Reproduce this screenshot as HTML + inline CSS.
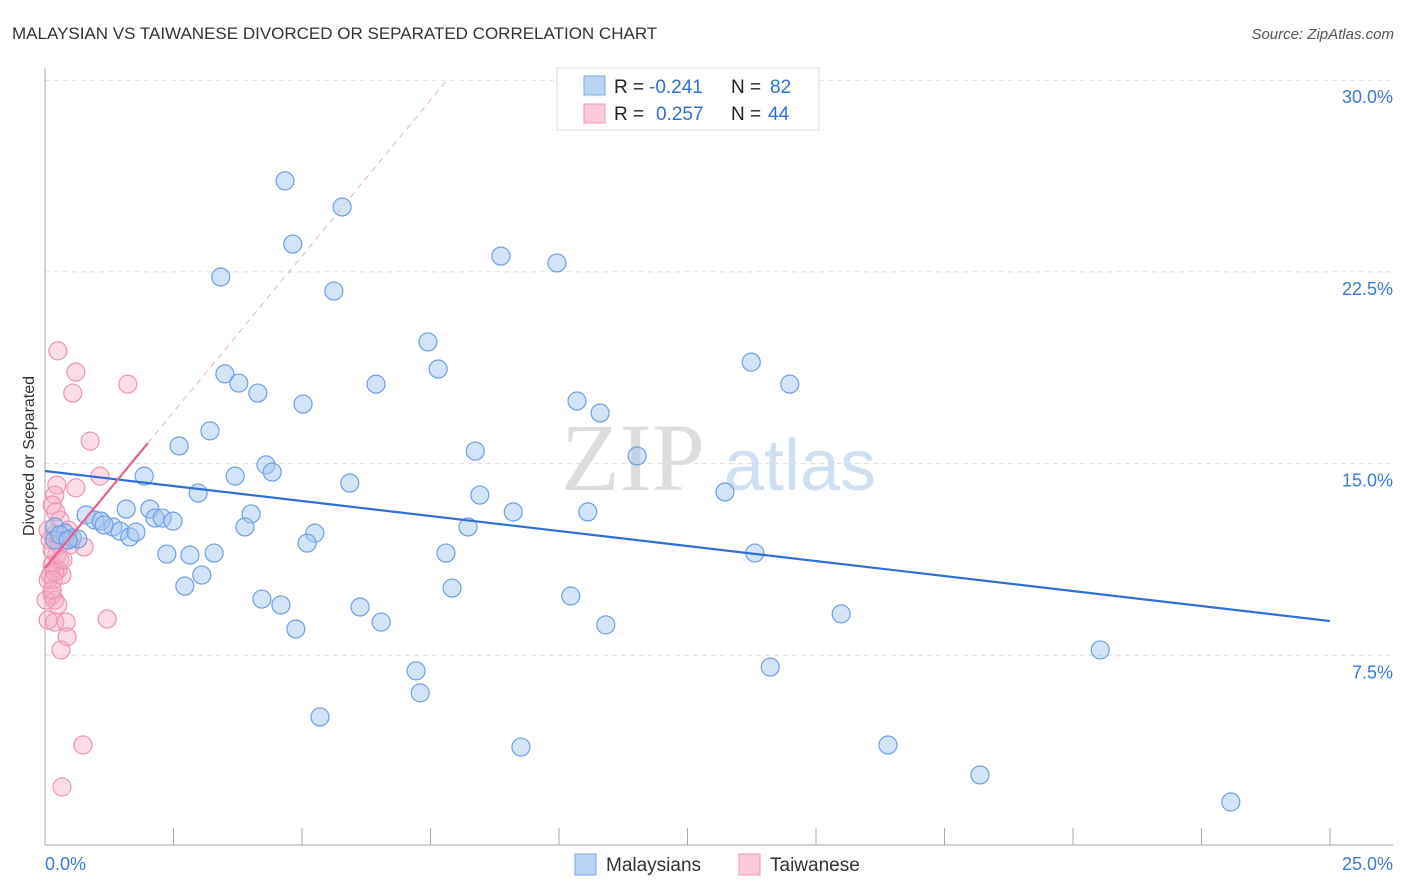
<!DOCTYPE html>
<html><head><meta charset="utf-8"><style>
body{margin:0;background:#fff;font-family:"Liberation Sans",sans-serif}
svg{display:block}
</style></head><body>
<svg id="c" width="1406" height="892">
<text x="12" y="39" font-size="17" fill="#333">MALAYSIAN VS TAIWANESE DIVORCED OR SEPARATED CORRELATION CHART</text>
<text x="1394" y="39" font-size="15" fill="#555" font-style="italic" text-anchor="end">Source: ZipAtlas.com</text>
<text x="34" y="456" font-size="16" fill="#333" transform="rotate(-90 34 456)" text-anchor="middle">Divorced or Separated</text>
<g><text x="633" y="490" font-size="96" font-family="Liberation Serif,serif" fill="#ddd" text-anchor="middle">ZIP</text><text x="800" y="490" font-size="72" fill="#cfe0f3" text-anchor="middle">atlas</text></g>
<g id="grid"></g><g id="axes"></g><g id="pts"></g><g id="lines"></g>
<g>
<rect x="557" y="68" width="262" height="62" fill="#fff" stroke="#ddd"/>
<rect x="584" y="76" width="21" height="19" fill="#b9d3f5" stroke="#7aa8e6"/>
<rect x="584" y="104" width="21" height="19" fill="#fbcad8" stroke="#ee9ab5"/>
<text x="614" y="93" font-size="19" fill="#222">R = </text><text x="649" y="93" font-size="19" fill="#2f6fd6">-0.241</text><text x="731" y="93" font-size="19" fill="#222">N = </text><text x="770" y="93" font-size="19" fill="#2f6fd6">82</text>
<text x="614" y="120" font-size="19" fill="#222">R = </text><text x="656" y="120" font-size="19" fill="#2f6fd6">0.257</text><text x="731" y="120" font-size="19" fill="#222">N = </text><text x="768" y="120" font-size="19" fill="#2f6fd6">44</text>
</g>
<g>
<rect x="575" y="854" width="21" height="21" fill="#b9d3f5" stroke="#7aa8e6"/>
<text x="606" y="871" font-size="19" fill="#333">Malaysians</text>
<rect x="739" y="854" width="21" height="21" fill="#fbcad8" stroke="#ee9ab5"/>
<text x="770" y="871" font-size="19" fill="#333">Taiwanese</text>
</g>
</svg>
<script>
const blueX=[4.67,5.78,4.82,3.42,8.87,9.96,5.62,7.45,7.65,13.74,14.49,3.50,3.77,4.14,6.44,5.02,10.35,10.80,3.21,2.61,8.37,11.52,4.30,4.42,3.70,1.93,5.93,2.98,8.46,13.23,1.58,2.04,2.14,2.28,2.49,4.01,9.11,10.56,0.80,0.97,1.09,1.32,1.46,1.15,3.89,8.23,5.25,0.19,0.39,0.53,0.64,1.65,1.77,5.10,2.37,2.82,3.29,7.80,13.81,2.72,3.05,7.92,4.22,4.59,6.13,10.23,6.54,4.88,10.91,15.49,20.53,7.22,14.11,7.30,5.35,9.26,16.40,18.19,23.07,0.19,0.29,0.45];
const blueY=[26.06,25.04,23.59,22.30,23.12,22.85,21.75,19.76,18.70,18.97,18.11,18.51,18.15,17.76,18.11,17.33,17.45,16.98,16.28,15.69,15.49,15.30,14.95,14.67,14.51,14.51,14.24,13.85,13.77,13.89,13.22,13.22,12.87,12.87,12.75,13.03,13.11,13.11,12.99,12.79,12.75,12.52,12.36,12.60,12.52,12.52,12.28,12.52,12.28,12.09,12.05,12.13,12.32,11.89,11.46,11.42,11.50,11.50,11.50,10.21,10.64,10.13,9.70,9.47,9.39,9.82,8.80,8.53,8.69,9.12,7.71,6.89,7.04,6.03,5.09,3.91,3.99,2.82,1.76,12.01,12.21,12.01];
const pinkX=[.25,.60,.54,1.61,.88,1.07,.60,.23,.19,.14,.29,.45,.19,.10,.39,.76,.23,.29,.14,.25,.33,.10,.06,.19,.14,.19,.25,.06,.19,.41,.43,.31,1.21,.74,.33,.06,.14,.29,.02,.49,.16,.35,.21,.14];
const pinkY=[19.41,18.58,17.76,18.11,15.88,14.51,14.05,14.16,13.77,13.38,12.79,12.40,12.21,12.01,12.01,11.74,11.42,11.23,11.03,10.84,10.64,10.64,10.45,10.76,9.86,9.66,9.47,8.88,8.80,8.80,8.22,7.71,8.92,3.99,2.35,12.40,11.62,11.82,9.66,11.82,10.45,11.23,13.11,10.05];
const yTicks=[7.5,15,22.5,30];
const xTickLabels=["0.0%","25.0%"];
const blueTrend=[14.71,8.84];
const pinkTrend=[10.92,2.44];
const NS="http://www.w3.org/2000/svg";
const sx=v=>45+v/25*1285, sy=v=>847-v*25.56;
function mk(t,a,p){const e=document.createElementNS(NS,t);for(const k in a)e.setAttribute(k,a[k]);p.appendChild(e);return e;}
const grid=document.getElementById('grid'),axes=document.getElementById('axes'),pts=document.getElementById('pts'),lines=document.getElementById('lines');
yTicks.forEach(v=>{
 const l=mk('line',{x1:45,x2:1393,y1:sy(v),y2:sy(v),stroke:'#ddd','stroke-dasharray':'5,4'},grid);
 
 
 const t=mk('text',{x:1393,y:sy(v)+23,'font-size':18,fill:'#3a7bd5','text-anchor':'end'},grid);
 t.textContent=v.toFixed(1)+'%';
 
 
});
const ya=mk('line',{x1:45,x2:45,y1:68,y2:845,stroke:'#aaa'},axes);


const xa=mk('line',{x1:45,x2:1393,y1:845,y2:845,stroke:'#aaa'},axes);


for(let i=0;i<=10;i++){const tk=mk('line',{x1:sx(i*2.5),x2:sx(i*2.5),y1:828,y2:845,stroke:'#aaa'},axes);
 
 }
[[0,45,'start'],[1,1393,'end']].forEach(([i,x,a])=>{const t=mk('text',{x:x,y:870,'font-size':18,fill:'#3a7bd5','text-anchor':a},axes);t.textContent=xTickLabels[i];
 
 });
pinkX.forEach((x,i)=>{const c=mk('circle',{cx:sx(x),cy:sy(pinkY[i]),r:9,fill:'rgba(246,170,196,0.4)',stroke:'#ec94b1','stroke-width':1.2},pts);
 
 });
blueX.forEach((x,i)=>{const c=mk('circle',{cx:sx(x),cy:sy(blueY[i]),r:9,fill:'rgba(160,196,240,0.45)',stroke:'#6d9fe2','stroke-width':1.2},pts);
 
 });
const bl=mk('line',{x1:sx(0),y1:sy(blueTrend[0]),x2:sx(25),y2:sy(blueTrend[1]),stroke:'#2c6fd6','stroke-width':2.2},lines);


const pf=x=>pinkTrend[0]+pinkTrend[1]*x;const xe=(30-pinkTrend[0])/pinkTrend[1];
const pd=mk('line',{x1:sx(2),y1:sy(pf(2)),x2:sx(xe),y2:sy(30),stroke:'#eab0c4','stroke-width':1,'stroke-dasharray':'6,5'},lines);


const pl=mk('line',{x1:sx(0),y1:sy(pf(0)),x2:sx(2),y2:sy(pf(2)),stroke:'#e8608c','stroke-width':2.2},lines);


</script>
</body></html>
